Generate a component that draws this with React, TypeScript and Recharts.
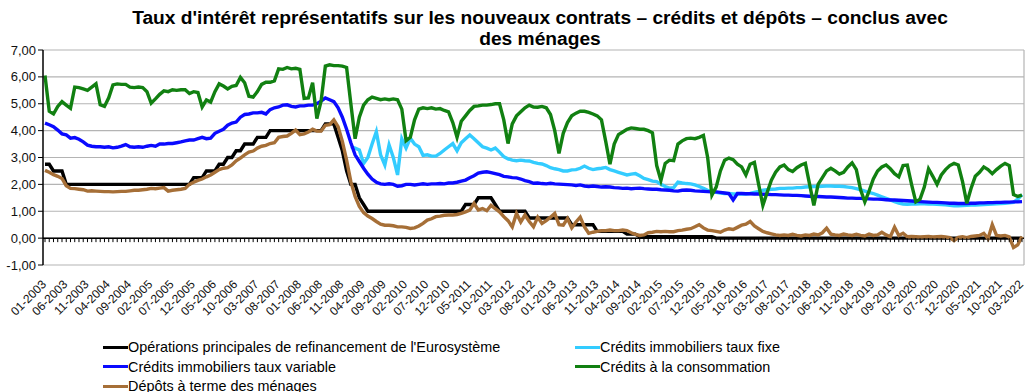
import React from 'react';
import { LineChart, Line, XAxis, YAxis, CartesianGrid, ReferenceLine } from 'recharts';

const TITLE_1 = "Taux d'intérêt représentatifs sur les nouveaux contrats – crédits et dépôts – conclus avec";
const TITLE_2 = 'des ménages';

const START_YEAR = 2003;
const MONTH_COUNT = 231; // 01-2003 .. 03-2022
const months: string[] = [];
for (let i = 0; i < MONTH_COUNT; i++) {
  const mm = (i % 12) + 1;
  const yy = START_YEAR + Math.floor(i / 12);
  months.push(`${mm < 10 ? '0' + mm : mm}-${yy}`);
}

const yTicks = [-1, 0, 1, 2, 3, 4, 5, 6, 7];

// Opérations principales de refinancement de l'Eurosystème
const refi = [
  2.75, 2.75, 2.5, 2.5, 2.5, 2, 2, 2, 2, 2, 2, 2,
  2, 2, 2, 2, 2, 2, 2, 2, 2, 2, 2, 2,
  2, 2, 2, 2, 2, 2, 2, 2, 2, 2, 2, 2.25,
  2.25, 2.25, 2.5, 2.5, 2.5, 2.75, 2.75, 3, 3, 3.25, 3.25, 3.5,
  3.5, 3.5, 3.75, 3.75, 3.75, 4, 4, 4, 4, 4, 4, 4,
  4, 4, 4, 4, 4, 4, 4.25, 4.25, 4.25, 3.75, 3.25, 2.5,
  2, 2, 1.5, 1.25, 1, 1, 1, 1, 1, 1, 1, 1,
  1, 1, 1, 1, 1, 1, 1, 1, 1, 1, 1, 1,
  1, 1, 1, 1.25, 1.25, 1.25, 1.5, 1.5, 1.5, 1.5, 1.25, 1,
  1, 1, 1, 1, 1, 1, 0.75, 0.75, 0.75, 0.75, 0.75, 0.75,
  0.75, 0.75, 0.75, 0.75, 0.5, 0.5, 0.5, 0.5, 0.5, 0.5, 0.25, 0.25,
  0.25, 0.25, 0.25, 0.25, 0.25, 0.15, 0.15, 0.15, 0.05, 0.05, 0.05, 0.05,
  0.05, 0.05, 0.05, 0.05, 0.05, 0.05, 0.05, 0.05, 0.05, 0.05, 0.05, 0.05,
  0.05, 0.05, 0, 0, 0, 0, 0, 0, 0, 0, 0, 0,
  0, 0, 0, 0, 0, 0, 0, 0, 0, 0, 0, 0,
  0, 0, 0, 0, 0, 0, 0, 0, 0, 0, 0, 0,
  0, 0, 0, 0, 0, 0, 0, 0, 0, 0, 0, 0,
  0, 0, 0, 0, 0, 0, 0, 0, 0, 0, 0, 0,
  0, 0, 0, 0, 0, 0, 0, 0, 0, 0, 0, 0,
  0, 0, 0,
];

// Crédits immobiliers taux fixe (series starts 01-2009)
const FIXE_START = 72;
const fixeValues = [
  3.40, 3.35, 3.28, 2.78, 3.00, 3.50, 3.96, 3.10, 2.72, 3.47, 3.00, 2.35,
  3.70, 3.35, 3.72, 3.50, 3.40, 3.08, 3.10, 3.05, 3.05, 3.15, 3.28, 3.40,
  3.52, 3.25, 3.55, 3.70, 3.84, 3.70, 3.55, 3.40, 3.35, 3.28, 3.35, 3.20,
  3.03, 2.95, 2.90, 2.88, 2.90, 2.88, 2.87, 2.82, 2.78, 2.76, 2.70, 2.62,
  2.58, 2.55, 2.50, 2.50, 2.54, 2.55, 2.60, 2.68, 2.60, 2.55, 2.58, 2.60,
  2.63, 2.55, 2.50, 2.45, 2.40, 2.35, 2.38, 2.40, 2.32, 2.22, 2.18, 2.12,
  2.10, 2.00, 1.92, 1.86, 1.88, 2.08, 2.05, 2.03, 2.02, 1.98, 1.92, 1.85,
  1.78, 1.72, 1.70, 1.68, 1.66, 1.66, 1.64, 1.64, 1.64, 1.64, 1.66, 1.70,
  1.74, 1.78, 1.80, 1.82, 1.83, 1.85, 1.85, 1.86, 1.86, 1.88, 1.88, 1.90,
  1.91, 1.92, 1.92, 1.93, 1.94, 1.94, 1.93, 1.93, 1.92, 1.90, 1.88, 1.84,
  1.80, 1.75, 1.70, 1.66, 1.60, 1.54, 1.48, 1.42, 1.36, 1.30, 1.27, 1.26,
  1.27, 1.27, 1.28, 1.28, 1.27, 1.27, 1.26, 1.25, 1.24, 1.22, 1.20, 1.20,
  1.21, 1.22, 1.23, 1.23, 1.24, 1.25, 1.26, 1.27, 1.28, 1.29, 1.30, 1.31,
  1.33, 1.45, 1.62,
];
const fixe: (number | null)[] = new Array(FIXE_START).fill(null).concat(fixeValues);

// Crédits immobiliers taux variable
const variable = [
  4.28, 4.22, 4.15, 4.02, 3.88, 3.84, 3.72, 3.74, 3.68, 3.58, 3.46, 3.42,
  3.40, 3.40, 3.38, 3.40, 3.36, 3.38, 3.42, 3.48, 3.40, 3.38, 3.40, 3.38,
  3.42, 3.45, 3.42, 3.50, 3.50, 3.52, 3.52, 3.55, 3.58, 3.62, 3.65, 3.65,
  3.70, 3.75, 3.70, 3.72, 3.90, 3.98, 4.05, 4.20, 4.28, 4.32, 4.50, 4.60,
  4.62, 4.66, 4.66, 4.68, 4.62, 4.78, 4.85, 4.88, 4.95, 4.96, 4.90, 4.88,
  4.92, 4.92, 4.95, 4.95, 5.00, 5.10, 5.22, 5.15, 5.08, 4.85, 4.50, 4.05,
  3.55, 3.10, 2.85, 2.60, 2.38, 2.20, 2.08, 2.02, 2.00, 2.02, 2.00, 1.93,
  1.95, 2.00, 2.00, 1.98, 2.00, 2.02, 2.00, 2.02, 2.02, 2.03, 2.02, 2.05,
  2.05, 2.08, 2.12, 2.16, 2.25, 2.32, 2.42, 2.45, 2.47, 2.44, 2.40, 2.36,
  2.30, 2.28, 2.25, 2.24, 2.20, 2.14, 2.10, 2.04, 2.05, 2.03, 2.02, 2.04,
  2.02, 2.01, 2.00, 1.99, 1.98, 1.96, 1.98, 1.94, 1.92, 1.94, 1.92, 1.90,
  1.91, 1.90, 1.88, 1.87, 1.85, 1.86, 1.84, 1.85, 1.86, 1.84, 1.83, 1.82,
  1.82, 1.80, 1.79, 1.78, 1.76, 1.75, 1.78, 1.79, 1.78, 1.76, 1.75, 1.74,
  1.73, 1.72, 1.72, 1.70, 1.68, 1.66, 1.42, 1.66, 1.66, 1.65, 1.65, 1.64,
  1.64, 1.63, 1.63, 1.62, 1.62, 1.61, 1.60, 1.60, 1.59, 1.59, 1.58, 1.57,
  1.56, 1.55, 1.55, 1.54, 1.53, 1.53, 1.52, 1.51, 1.50, 1.49, 1.49, 1.48,
  1.48, 1.47, 1.46, 1.45, 1.45, 1.44, 1.43, 1.42, 1.42, 1.41, 1.40, 1.39,
  1.38, 1.37, 1.36, 1.35, 1.34, 1.33, 1.33, 1.32, 1.31, 1.30, 1.30, 1.29,
  1.29, 1.29, 1.30, 1.30, 1.31, 1.31, 1.32, 1.32, 1.33, 1.33, 1.34, 1.34,
  1.35, 1.35, 1.36,
];

// Crédits à la consommation
const conso = [
  6.05, 4.72, 4.62, 4.90, 5.08, 4.95, 4.83, 5.62, 5.60, 5.55, 5.50, 5.62,
  5.74, 4.96, 4.90, 5.22, 5.70, 5.74, 5.72, 5.72, 5.62, 5.60, 5.62, 5.60,
  5.45, 5.02, 5.18, 5.35, 5.48, 5.45, 5.52, 5.50, 5.52, 5.52, 5.38, 5.45,
  5.42, 4.88, 5.14, 5.06, 5.45, 5.74, 5.66, 5.55, 5.65, 5.68, 5.98, 5.78,
  5.28, 5.25, 5.45, 5.72, 5.80, 5.80, 5.85, 6.30, 6.28, 6.35, 6.30, 6.32,
  6.28, 5.20, 5.22, 5.78, 4.45, 5.10, 6.40, 6.45, 6.42, 6.42, 6.40, 6.35,
  5.00, 3.70, 4.50, 4.95, 5.15, 5.25, 5.20, 5.15, 5.18, 5.15, 5.18, 5.15,
  4.80, 3.62, 3.75, 4.40, 4.80, 4.85, 4.82, 4.85, 4.80, 4.82, 4.75, 4.70,
  4.30, 3.75, 4.35, 4.55, 4.75, 4.90, 4.92, 4.95, 4.95, 4.97, 5.00, 5.00,
  4.40, 3.52, 4.25, 4.55, 4.70, 4.85, 4.95, 4.88, 4.87, 4.90, 4.85, 4.60,
  4.00, 3.15, 3.90, 4.30, 4.55, 4.65, 4.72, 4.72, 4.68, 4.62, 4.55, 4.40,
  3.60, 2.75, 3.50, 3.85, 3.95, 4.05, 4.10, 4.08, 4.05, 4.05, 4.00, 3.92,
  2.70, 2.15, 2.78, 2.90, 2.88, 3.50, 3.62, 3.70, 3.72, 3.70, 3.75, 3.82,
  3.00, 1.60, 1.90, 2.50, 2.90, 2.98, 2.92, 2.75, 2.65, 2.35, 2.75, 2.82,
  2.00, 1.22, 1.70, 2.16, 2.45, 2.65, 2.72, 2.55, 2.48, 2.62, 2.72, 2.78,
  2.00, 1.22, 2.00, 2.25, 2.50, 2.60, 2.50, 2.38, 2.45, 2.65, 2.80, 2.55,
  1.80, 1.35, 1.75, 2.20, 2.50, 2.65, 2.72, 2.58, 2.40, 2.28, 2.70, 2.72,
  2.00, 1.35, 1.45, 1.90, 2.58, 2.30, 2.00, 2.35, 2.55, 2.70, 2.78, 2.72,
  2.10, 1.30, 1.85, 2.30, 2.45, 2.65, 2.55, 2.40, 2.55, 2.68, 2.78, 2.70,
  1.62, 1.55, 1.60,
];

// Dépôts à terme des ménages
const depots = [
  2.52, 2.45, 2.36, 2.30, 2.22, 1.95, 1.85, 1.84, 1.82, 1.80, 1.75, 1.76,
  1.75, 1.74, 1.73, 1.73, 1.72, 1.73, 1.74, 1.74, 1.76, 1.78, 1.78, 1.80,
  1.82, 1.85, 1.84, 1.86, 1.88, 1.75, 1.78, 1.80, 1.82, 1.85, 2.00, 2.08,
  2.15, 2.20, 2.28, 2.35, 2.45, 2.55, 2.60, 2.62, 2.72, 2.88, 2.98, 3.10,
  3.20, 3.24, 3.35, 3.42, 3.45, 3.52, 3.55, 3.75, 3.78, 3.80, 3.90, 4.02,
  3.85, 3.88, 3.95, 4.05, 3.98, 3.98, 4.20, 4.22, 4.40, 4.15, 3.60, 2.90,
  2.10, 1.55, 1.18, 0.95, 0.82, 0.73, 0.62, 0.52, 0.48, 0.48, 0.46, 0.42,
  0.42, 0.40, 0.36, 0.38, 0.45, 0.55, 0.67, 0.72, 0.80, 0.82, 0.85, 0.86,
  0.86, 0.88, 0.92, 0.98, 1.04, 1.29, 1.05, 1.10, 1.02, 1.22, 1.10, 0.98,
  0.80, 0.65, 0.42, 0.92, 0.60, 0.86, 0.62, 0.42, 0.78, 0.55, 0.65, 0.78,
  0.92, 0.50, 0.48, 0.73, 0.38, 0.60, 0.78, 0.42, 0.18, 0.22, 0.25, 0.28,
  0.28, 0.30, 0.28, 0.28, 0.30, 0.28, 0.20, 0.14, 0.10, 0.12, 0.20, 0.22,
  0.25, 0.24, 0.25, 0.24, 0.24, 0.28, 0.30, 0.33, 0.35, 0.42, 0.50, 0.38,
  0.30, 0.28, 0.25, 0.22, 0.30, 0.35, 0.32, 0.40, 0.48, 0.52, 0.62, 0.45,
  0.35, 0.25, 0.20, 0.16, 0.12, 0.10, 0.12, 0.10, 0.14, 0.10, 0.08, 0.12,
  0.10, 0.15, 0.12, 0.20, 0.37, 0.15, 0.12, 0.10, 0.15, 0.12, 0.10, 0.14,
  0.10, 0.08, 0.15, 0.10, 0.12, 0.22, 0.12, 0.05, 0.41, 0.10, 0.18, 0.05,
  0.06, 0.05, 0.04, 0.05, 0.06, 0.04, 0.05, 0.06, 0.04, 0.02, -0.09, 0.03,
  0.05, 0.02, 0.06, 0.08, 0.10, 0.18, -0.02, 0.50, 0.10, 0.08, 0.10, 0.05,
  -0.35, -0.25, 0.06,
];

const SERIES = [
  { key: 'refi', name: "Opérations principales de refinancement de l'Eurosystème", color: '#000000' },
  { key: 'fixe', name: 'Crédits immobiliers taux fixe', color: '#33ccff' },
  { key: 'variable', name: 'Crédits immobiliers taux variable', color: '#0a0aff' },
  { key: 'conso', name: 'Crédits à la consommation', color: '#118011' },
  { key: 'depots', name: 'Dépôts à terme des ménages', color: '#a66f37' },
];

const data = months.map((m, i) => ({
  m,
  refi: refi[i],
  fixe: fixe[i],
  variable: variable[i],
  conso: conso[i],
  depots: depots[i],
}));

const FONT = '"Liberation Sans", Arial, sans-serif';

const fmt = (v: number) => v.toFixed(2).replace('.', ',');

const XTick = (props: any) => {
  const { x, y, payload } = props;
  const ax = x + 2;
  const ay = y + 12;
  return (
    <text
      x={ax}
      y={ay}
      transform={`rotate(-45 ${ax} ${ay})`}
      textAnchor="end"
      fontSize={12}
      fontFamily={FONT}
      fill="#111"
    >
      {payload.value}
    </text>
  );
};

const ZeroTickDot = (props: any) => {
  const { cx, cy, index } = props;
  if (cx == null || cy == null) return <g key={`zt-${index}`} />;
  return <line key={`zt-${index}`} x1={cx} x2={cx} y1={cy} y2={cy + 4} stroke="#000" strokeWidth={1} />;
};

const legendRows = [
  [SERIES[0], SERIES[1]],
  [SERIES[2], SERIES[3]],
  [SERIES[4]],
];

export default function App() {
  return (
    <div style={{ position: 'absolute', left: 0, top: 0, width: 1032, height: 392, background: '#fff', overflow: 'hidden' }}>
      <div
        style={{
          position: 'absolute',
          left: 40,
          top: 7,
          width: 1000,
          textAlign: 'center',
          fontFamily: FONT,
          fontWeight: 'bold',
          fontSize: 19.2,
          lineHeight: '21px',
          color: '#000',
        }}
      >
        <div>{TITLE_1}</div>
        <div>{TITLE_2}</div>
      </div>
      <LineChart
        width={1032}
        height={392}
        data={data}
        margin={{ top: 50, right: 8, left: 5, bottom: 87 }}
      >
        <CartesianGrid
          stroke="#b4b4b4"
          strokeWidth={1.2}
          verticalCoordinatesGenerator={(p: any) => [p.offset.left + p.offset.width]}
        />
        <XAxis
          dataKey="m"
          interval={4}
          height={40}
          axisLine={false}
          tickLine={false}
          tick={<XTick />}
          padding={{ left: 2, right: 2 }}
        />
        <YAxis
          domain={[-1, 7]}
          ticks={yTicks}
          width={38}
          tickFormatter={fmt}
          axisLine={{ stroke: '#000', strokeWidth: 1.5 }}
          tickLine={{ stroke: '#000' }}
          tickSize={5}
          tick={{ fontSize: 13, fontFamily: FONT, fill: '#111' }}
        />
        <ReferenceLine y={0} stroke="#000" strokeWidth={1.5} />
        <Line
          dataKey={() => 0}
          stroke="none"
          dot={ZeroTickDot}
          activeDot={false}
          isAnimationActive={false}
          legendType="none"
        />
        {SERIES.map((s) => (
          <Line
            key={s.key}
            dataKey={s.key}
            name={s.name}
            stroke={s.color}
            strokeWidth={3.4}
            dot={false}
            activeDot={false}
            type="linear"
            isAnimationActive={false}
          />
        ))}
      </LineChart>
      {legendRows.map((row, r) =>
        row.map((s, c) => (
          <div
            key={s.key}
            style={{
              position: 'absolute',
              left: c === 0 ? 103 : 575,
              top: 339 + r * 19.5,
              height: 16,
              display: 'flex',
              alignItems: 'center',
              fontFamily: FONT,
              fontSize: 14.4,
              color: '#000',
              whiteSpace: 'nowrap',
            }}
          >
            <span style={{ display: 'inline-block', width: 25, height: 3, background: s.color }} />
            <span>{s.name}</span>
          </div>
        ))
      )}
    </div>
  );
}
